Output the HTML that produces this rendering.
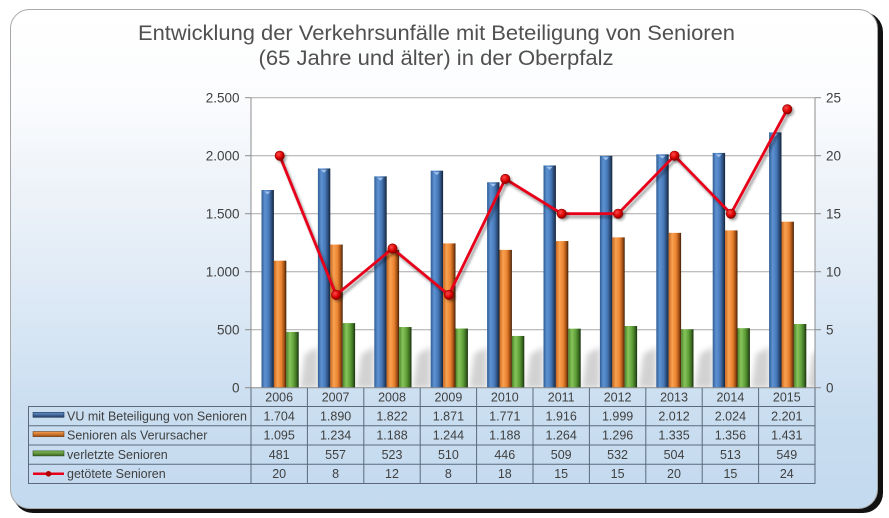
<!DOCTYPE html>
<html><head><meta charset="utf-8"><style>
html,body{margin:0;padding:0;background:#fff;}
svg{display:block;font-family:"Liberation Sans",Arial,sans-serif;}
</style></head><body>
<svg width="889" height="518" viewBox="0 0 889 518" xmlns="http://www.w3.org/2000/svg">
<defs>
<linearGradient id="bg" x1="0" y1="0" x2="0" y2="1">
<stop offset="0" stop-color="#ffffff"/>
<stop offset="0.18" stop-color="#fbfcfe"/>
<stop offset="0.35" stop-color="#eef3f9"/>
<stop offset="0.6" stop-color="#dbe8f5"/>
<stop offset="0.8" stop-color="#cadef0"/>
<stop offset="1" stop-color="#c3d9ee"/>
</linearGradient>
<linearGradient id="gb" x1="0" y1="0" x2="1" y2="0">
<stop offset="0" stop-color="#2f5d95"/>
<stop offset="0.28" stop-color="#5e92d2"/>
<stop offset="0.6" stop-color="#4678b8"/>
<stop offset="0.85" stop-color="#28466e"/>
<stop offset="1" stop-color="#13223a"/>
</linearGradient>
<linearGradient id="go" x1="0" y1="0" x2="1" y2="0">
<stop offset="0" stop-color="#c9661c"/>
<stop offset="0.28" stop-color="#f8a252"/>
<stop offset="0.6" stop-color="#ea8330"/>
<stop offset="0.85" stop-color="#9a4a12"/>
<stop offset="1" stop-color="#3a1d08"/>
</linearGradient>
<linearGradient id="gg" x1="0" y1="0" x2="1" y2="0">
<stop offset="0" stop-color="#4a8428"/>
<stop offset="0.28" stop-color="#88c45c"/>
<stop offset="0.6" stop-color="#60a038"/>
<stop offset="0.85" stop-color="#386620"/>
<stop offset="1" stop-color="#182e0c"/>
</linearGradient>
<linearGradient id="lb" x1="0" y1="0" x2="0" y2="1"><stop offset="0" stop-color="#6a9ad6"/><stop offset="1" stop-color="#1f3b63"/></linearGradient>
<linearGradient id="lo" x1="0" y1="0" x2="0" y2="1"><stop offset="0" stop-color="#f8a050"/><stop offset="1" stop-color="#a04e12"/></linearGradient>
<linearGradient id="lg" x1="0" y1="0" x2="0" y2="1"><stop offset="0" stop-color="#86c25a"/><stop offset="1" stop-color="#386620"/></linearGradient>
<radialGradient id="mk" cx="0.38" cy="0.35" r="0.7">
<stop offset="0" stop-color="#ff4a4a"/>
<stop offset="0.6" stop-color="#d80000"/>
<stop offset="1" stop-color="#7a0000"/>
</radialGradient>
<filter id="blur3" x="-50%" y="-50%" width="200%" height="200%"><feGaussianBlur stdDeviation="3"/></filter>
<filter id="blur1" x="-20%" y="-20%" width="140%" height="140%"><feGaussianBlur stdDeviation="1.2"/></filter>
<clipPath id="plotclip"><rect x="251" y="97.7" width="564" height="290"/></clipPath>
</defs>

<!-- card -->
<rect x="13" y="12" width="870" height="501" rx="20" fill="#111"/>
<rect x="10.5" y="9.5" width="867" height="499" rx="19" fill="url(#bg)" stroke="#a8a8a8" stroke-width="1"/>

<!-- title -->
<text x="436.5" y="40" font-size="21.5" fill="#505050" text-anchor="middle" textLength="597" lengthAdjust="spacingAndGlyphs">Entwicklung der Verkehrsunfälle mit Beteiligung von Senioren</text>
<text x="436" y="65" font-size="21.5" fill="#505050" text-anchor="middle" textLength="355" lengthAdjust="spacingAndGlyphs">(65 Jahre und älter) in der Oberpfalz</text>

<!-- plot area -->
<rect x="251" y="97.7" width="564" height="290" fill="#ffffff"/>

<!-- floor shadows -->
<g clip-path="url(#plotclip)" filter="url(#blur3)" fill="#b4b4b4" opacity="0.6">
<polygon points="300,388 305,354 318,347 318,388"/>
<polygon points="356.4,388 361.4,354 374.4,347 374.4,388"/>
<polygon points="412.8,388 417.8,354 430.8,347 430.8,388"/>
<polygon points="469.2,388 474.2,354 487.2,347 487.2,388"/>
<polygon points="525.6,388 530.6,354 543.6,347 543.6,388"/>
<polygon points="582,388 587,354 600,347 600,388"/>
<polygon points="638.4,388 643.4,354 656.4,347 656.4,388"/>
<polygon points="694.8,388 699.8,354 712.8,347 712.8,388"/>
<polygon points="751.2,388 756.2,354 769.2,347 769.2,388"/>
<polygon points="807.6,388 812.6,354 825.6,347 825.6,388"/>
</g>

<!-- gridlines -->
<g stroke="#a9a9a9" stroke-width="1">
<line x1="251" y1="97.7" x2="815" y2="97.7"/>
<line x1="251" y1="155.7" x2="815" y2="155.7"/>
<line x1="251" y1="213.7" x2="815" y2="213.7"/>
<line x1="251" y1="271.7" x2="815" y2="271.7"/>
<line x1="251" y1="329.7" x2="815" y2="329.7"/>
</g>

<!-- bars -->
<g>
<rect x="261.5" y="190.04" width="12.4" height="197.66" fill="url(#gb)"/>
<rect x="273.9" y="260.68" width="12.4" height="127.02" fill="url(#go)"/>
<rect x="286.3" y="331.9" width="12.4" height="55.8" fill="url(#gg)"/>

<rect x="317.9" y="168.46" width="12.4" height="219.24" fill="url(#gb)"/>
<rect x="330.3" y="244.56" width="12.4" height="143.14" fill="url(#go)"/>
<rect x="342.7" y="323.09" width="12.4" height="64.61" fill="url(#gg)"/>

<rect x="374.3" y="176.35" width="12.4" height="211.35" fill="url(#gb)"/>
<rect x="386.7" y="249.89" width="12.4" height="137.81" fill="url(#go)"/>
<rect x="399.1" y="327.03" width="12.4" height="60.67" fill="url(#gg)"/>

<rect x="430.7" y="170.66" width="12.4" height="217.04" fill="url(#gb)"/>
<rect x="443.1" y="243.4" width="12.4" height="144.3" fill="url(#go)"/>
<rect x="455.5" y="328.54" width="12.4" height="59.16" fill="url(#gg)"/>

<rect x="487.1" y="182.26" width="12.4" height="205.44" fill="url(#gb)"/>
<rect x="499.5" y="249.89" width="12.4" height="137.81" fill="url(#go)"/>
<rect x="511.9" y="335.96" width="12.4" height="51.74" fill="url(#gg)"/>

<rect x="543.5" y="165.44" width="12.4" height="222.26" fill="url(#gb)"/>
<rect x="555.9" y="241.08" width="12.4" height="146.62" fill="url(#go)"/>
<rect x="568.3" y="328.66" width="12.4" height="59.04" fill="url(#gg)"/>

<rect x="599.9" y="155.82" width="12.4" height="231.88" fill="url(#gb)"/>
<rect x="612.3" y="237.36" width="12.4" height="150.34" fill="url(#go)"/>
<rect x="624.7" y="325.99" width="12.4" height="61.71" fill="url(#gg)"/>

<rect x="656.3" y="154.31" width="12.4" height="233.39" fill="url(#gb)"/>
<rect x="668.7" y="232.84" width="12.4" height="154.86" fill="url(#go)"/>
<rect x="681.1" y="329.24" width="12.4" height="58.46" fill="url(#gg)"/>

<rect x="712.7" y="152.92" width="12.4" height="234.78" fill="url(#gb)"/>
<rect x="725.1" y="230.4" width="12.4" height="157.3" fill="url(#go)"/>
<rect x="737.5" y="328.19" width="12.4" height="59.51" fill="url(#gg)"/>

<rect x="769.1" y="132.38" width="12.4" height="255.32" fill="url(#gb)"/>
<rect x="781.5" y="221.7" width="12.4" height="166" fill="url(#go)"/>
<rect x="793.9" y="324.02" width="12.4" height="63.68" fill="url(#gg)"/>
</g>
<!-- bar top highlights -->
<g fill="#a9c8ee" opacity="0.9">
<polygon points="264.5,191.5 270.5,191.5 267.5,194.5"/>
<polygon points="320.9,169.9 326.9,169.9 323.9,172.9"/>
<polygon points="377.3,177.8 383.3,177.8 380.3,180.8"/>
<polygon points="433.7,172.1 439.7,172.1 436.7,175.1"/>
<polygon points="490.1,183.7 496.1,183.7 493.1,186.7"/>
<polygon points="546.5,166.9 552.5,166.9 549.5,169.9"/>
<polygon points="602.9,157.3 608.9,157.3 605.9,160.3"/>
<polygon points="659.3,155.8 665.3,155.8 662.3,158.8"/>
<polygon points="715.7,154.4 721.7,154.4 718.7,157.4"/>
<polygon points="772.1,133.8 778.1,133.8 775.1,136.8"/>
</g>

<!-- axes -->
<g stroke="#8c8c8c" stroke-width="1">
<line x1="251" y1="97.7" x2="251" y2="388"/>
<line x1="815" y1="97.7" x2="815" y2="388"/>
<line x1="251" y1="387.7" x2="815" y2="387.7"/>
<line x1="245" y1="97.7" x2="251" y2="97.7"/>
<line x1="245" y1="155.7" x2="251" y2="155.7"/>
<line x1="245" y1="213.7" x2="251" y2="213.7"/>
<line x1="245" y1="271.7" x2="251" y2="271.7"/>
<line x1="245" y1="329.7" x2="251" y2="329.7"/>
<line x1="245" y1="387.7" x2="251" y2="387.7"/>
<line x1="815" y1="97.7" x2="821" y2="97.7"/>
<line x1="815" y1="155.7" x2="821" y2="155.7"/>
<line x1="815" y1="213.7" x2="821" y2="213.7"/>
<line x1="815" y1="271.7" x2="821" y2="271.7"/>
<line x1="815" y1="329.7" x2="821" y2="329.7"/>
<line x1="815" y1="387.7" x2="821" y2="387.7"/>
</g>

<!-- axis labels -->
<g font-size="13.5" fill="#404040" text-anchor="end">
<text x="239.5" y="102.5">2.500</text>
<text x="239.5" y="160.5">2.000</text>
<text x="239.5" y="218.5">1.500</text>
<text x="239.5" y="276.5">1.000</text>
<text x="239.5" y="334.5">500</text>
<text x="239.5" y="392.5">0</text>
</g>
<g font-size="13.5" fill="#404040">
<text x="826" y="102.5">25</text>
<text x="826" y="160.5">20</text>
<text x="826" y="218.5">15</text>
<text x="826" y="276.5">10</text>
<text x="826" y="334.5">5</text>
<text x="826" y="392.5">0</text>
</g>

<!-- red line shadow -->
<polyline points="281.7,158.7 338.1,297.9 394.5,251.5 450.9,297.9 507.3,181.9 563.7,216.7 620.1,216.7 676.5,158.7 732.9,216.7 789.3,112.3" fill="none" stroke="#000" stroke-opacity="0.35" stroke-width="3" filter="url(#blur1)"/>
<!-- red line -->
<polyline points="279.7,155.7 336.1,294.9 392.5,248.5 448.9,294.9 505.3,178.9 561.7,213.7 618.1,213.7 674.5,155.7 730.9,213.7 787.3,109.3" fill="none" stroke="#e8001a" stroke-width="2.8" stroke-linejoin="round"/>
<g fill="#000" opacity="0.3" filter="url(#blur1)">
<circle cx="281.7" cy="157.7" r="5"/><circle cx="338.1" cy="296.9" r="5"/><circle cx="394.5" cy="250.5" r="5"/><circle cx="450.9" cy="296.9" r="5"/><circle cx="507.3" cy="180.9" r="5"/><circle cx="563.7" cy="215.7" r="5"/><circle cx="620.1" cy="215.7" r="5"/><circle cx="676.5" cy="157.7" r="5"/><circle cx="732.9" cy="215.7" r="5"/><circle cx="789.3" cy="111.3" r="5"/>
</g>
<g fill="url(#mk)" stroke="#8a0000" stroke-width="0.6">
<circle cx="279.7" cy="155.7" r="4.7"/><circle cx="336.1" cy="294.9" r="4.7"/><circle cx="392.5" cy="248.5" r="4.7"/><circle cx="448.9" cy="294.9" r="4.7"/><circle cx="505.3" cy="178.9" r="4.7"/><circle cx="561.7" cy="213.7" r="4.7"/><circle cx="618.1" cy="213.7" r="4.7"/><circle cx="674.5" cy="155.7" r="4.7"/><circle cx="730.9" cy="213.7" r="4.7"/><circle cx="787.3" cy="109.3" r="4.7"/>
</g>

<!-- table lines -->
<g stroke="#5a6a7c" stroke-width="1" fill="none">
<rect x="28.5" y="406.5" width="786.5" height="77"/>
<line x1="28.5" y1="425.7" x2="815" y2="425.7"/>
<line x1="28.5" y1="445" x2="815" y2="445"/>
<line x1="28.5" y1="464.2" x2="815" y2="464.2"/>
<line x1="251" y1="388" x2="251" y2="483.5"/>
<line x1="307.4" y1="388" x2="307.4" y2="483.5"/>
<line x1="363.8" y1="388" x2="363.8" y2="483.5"/>
<line x1="420.2" y1="388" x2="420.2" y2="483.5"/>
<line x1="476.6" y1="388" x2="476.6" y2="483.5"/>
<line x1="533" y1="388" x2="533" y2="483.5"/>
<line x1="589.4" y1="388" x2="589.4" y2="483.5"/>
<line x1="645.8" y1="388" x2="645.8" y2="483.5"/>
<line x1="702.2" y1="388" x2="702.2" y2="483.5"/>
<line x1="758.6" y1="388" x2="758.6" y2="483.5"/>
<line x1="815" y1="388" x2="815" y2="483.5"/>
</g>

<!-- legend keys -->
<rect x="33" y="412.3" width="31" height="5" fill="url(#lb)" stroke="#1f3350" stroke-width="0.6"/>
<rect x="33" y="431.6" width="31" height="5" fill="url(#lo)" stroke="#6a3410" stroke-width="0.6"/>
<rect x="33" y="450.9" width="31" height="5" fill="url(#lg)" stroke="#2a4a18" stroke-width="0.6"/>
<line x1="33" y1="473.8" x2="64" y2="473.8" stroke="#e8001a" stroke-width="2.5"/>
<circle cx="48.5" cy="473.8" r="2.8" fill="#b00000"/>

<g font-size="12.5" fill="#404040">
<text x="67" y="420.4">VU mit Beteiligung von Senioren</text>
<text x="67" y="439.6">Senioren als Verursacher</text>
<text x="67" y="458.8">verletzte Senioren</text>
<text x="67" y="478">getötete Senioren</text>
</g>

<!-- years -->
<g font-size="12.5" fill="#404040" text-anchor="middle">
<text x="279.2" y="401.6">2006</text><text x="335.6" y="401.6">2007</text><text x="392" y="401.6">2008</text><text x="448.4" y="401.6">2009</text><text x="504.8" y="401.6">2010</text><text x="561.2" y="401.6">2011</text><text x="617.6" y="401.6">2012</text><text x="674" y="401.6">2013</text><text x="730.4" y="401.6">2014</text><text x="786.8" y="401.6">2015</text>

<text x="279.2" y="420.4">1.704</text><text x="335.6" y="420.4">1.890</text><text x="392" y="420.4">1.822</text><text x="448.4" y="420.4">1.871</text><text x="504.8" y="420.4">1.771</text><text x="561.2" y="420.4">1.916</text><text x="617.6" y="420.4">1.999</text><text x="674" y="420.4">2.012</text><text x="730.4" y="420.4">2.024</text><text x="786.8" y="420.4">2.201</text>

<text x="279.2" y="439.6">1.095</text><text x="335.6" y="439.6">1.234</text><text x="392" y="439.6">1.188</text><text x="448.4" y="439.6">1.244</text><text x="504.8" y="439.6">1.188</text><text x="561.2" y="439.6">1.264</text><text x="617.6" y="439.6">1.296</text><text x="674" y="439.6">1.335</text><text x="730.4" y="439.6">1.356</text><text x="786.8" y="439.6">1.431</text>

<text x="279.2" y="458.8">481</text><text x="335.6" y="458.8">557</text><text x="392" y="458.8">523</text><text x="448.4" y="458.8">510</text><text x="504.8" y="458.8">446</text><text x="561.2" y="458.8">509</text><text x="617.6" y="458.8">532</text><text x="674" y="458.8">504</text><text x="730.4" y="458.8">513</text><text x="786.8" y="458.8">549</text>

<text x="279.2" y="478">20</text><text x="335.6" y="478">8</text><text x="392" y="478">12</text><text x="448.4" y="478">8</text><text x="504.8" y="478">18</text><text x="561.2" y="478">15</text><text x="617.6" y="478">15</text><text x="674" y="478">20</text><text x="730.4" y="478">15</text><text x="786.8" y="478">24</text>
</g>
</svg>
</body></html>
